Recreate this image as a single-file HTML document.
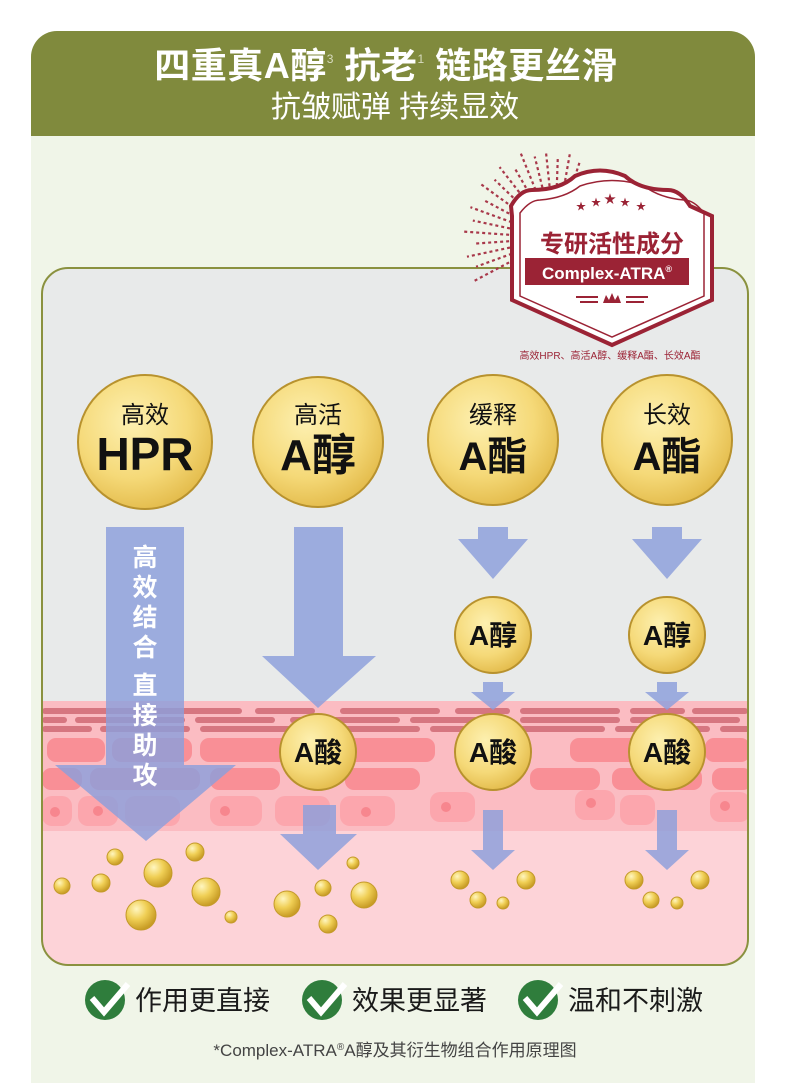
<!DOCTYPE html>
<html><head><meta charset="utf-8"><style>
html,body{margin:0;padding:0;background:#fff;}
body{width:790px;height:1083px;overflow:hidden;font-family:"Liberation Sans","Noto Sans CJK SC",sans-serif;}
</style></head><body>
<svg width="790" height="1083" viewBox="0 0 790 1083" xmlns="http://www.w3.org/2000/svg" font-family="'Liberation Sans','Noto Sans CJK SC',sans-serif">
<defs>
<radialGradient id="g" cx="0.4" cy="0.35" r="0.7">
<stop offset="0" stop-color="#fdf0b0"/><stop offset="0.6" stop-color="#f5d978"/><stop offset="1" stop-color="#e2b948"/>
</radialGradient>
<radialGradient id="d" cx="0.35" cy="0.3" r="0.7">
<stop offset="0" stop-color="#fff6c0"/><stop offset="0.5" stop-color="#f0cf55"/><stop offset="1" stop-color="#c89c25"/>
</radialGradient>
<clipPath id="pc"><rect x="42" y="268" width="706" height="697" rx="26"/></clipPath>
</defs>
<rect x="31" y="31" width="724" height="1052" rx="26" fill="#f0f5e8"/>
<rect x="31" y="120" width="724" height="963" fill="#f0f5e8"/>
<path d="M31 136 V57 a26 26 0 0 1 26 -26 H729 a26 26 0 0 1 26 26 V136 Z" fill="#808a3d"/>
<text x="386" y="78" text-anchor="middle" font-size="36" font-weight="bold" fill="#fff" letter-spacing="0.5">四重真A醇<tspan font-size="12" font-weight="normal" dy="-15" fill="#d8dcc0">3</tspan><tspan dy="15"> 抗老</tspan><tspan font-size="12" font-weight="normal" dy="-15" fill="#d8dcc0">1</tspan><tspan dy="15"> 链路更丝滑</tspan></text>
<text x="395" y="117" text-anchor="middle" font-size="30" fill="#fff">抗皱赋弹  持续显效</text>

<rect x="42" y="268" width="706" height="697" rx="26" fill="#e8eaea"/>
<g clip-path="url(#pc)">
<rect x="42" y="701" width="706" height="270" fill="#fdd3d8"/>
<rect x="42" y="701" width="706" height="130" fill="#fbbcc2"/>
<g fill="#d67680">
<rect x="42" y="708" width="60" height="6" rx="3"/><rect x="65" y="708" width="80" height="6" rx="3"/><rect x="152" y="708" width="90" height="6" rx="3"/><rect x="255" y="708" width="60" height="6" rx="3"/><rect x="340" y="708" width="100" height="6" rx="3"/><rect x="455" y="708" width="55" height="6" rx="3"/><rect x="520" y="708" width="100" height="6" rx="3"/><rect x="630" y="708" width="55" height="6" rx="3"/><rect x="692" y="708" width="56" height="6" rx="3"/>
<rect x="42" y="717" width="25" height="6" rx="3"/><rect x="75" y="717" width="110" height="6" rx="3"/><rect x="195" y="717" width="80" height="6" rx="3"/><rect x="290" y="717" width="110" height="6" rx="3"/><rect x="410" y="717" width="100" height="6" rx="3"/><rect x="520" y="717" width="100" height="6" rx="3"/><rect x="630" y="717" width="110" height="6" rx="3"/>
<rect x="42" y="726" width="50" height="6" rx="3"/><rect x="100" y="726" width="90" height="6" rx="3"/><rect x="200" y="726" width="100" height="6" rx="3"/><rect x="310" y="726" width="110" height="6" rx="3"/><rect x="430" y="726" width="70" height="6" rx="3"/><rect x="510" y="726" width="95" height="6" rx="3"/><rect x="615" y="726" width="95" height="6" rx="3"/><rect x="720" y="726" width="30" height="6" rx="3"/>
</g>
<g fill="#f98f96">
<rect x="47" y="738" width="58" height="24" rx="9"/><rect x="112" y="738" width="80" height="24" rx="9"/><rect x="200" y="738" width="90" height="24" rx="9"/><rect x="340" y="738" width="95" height="24" rx="9"/><rect x="570" y="738" width="70" height="24" rx="9"/><rect x="705" y="738" width="45" height="24" rx="9"/>
<rect x="42" y="768" width="40" height="22" rx="9"/><rect x="90" y="768" width="110" height="22" rx="9"/><rect x="210" y="768" width="70" height="22" rx="9"/><rect x="345" y="768" width="75" height="22" rx="9"/><rect x="530" y="768" width="70" height="22" rx="9"/><rect x="612" y="768" width="90" height="22" rx="9"/><rect x="712" y="768" width="40" height="22" rx="9"/>
</g>
<g fill="#fca6ad">
<rect x="42" y="796" width="30" height="30" rx="10"/><rect x="78" y="796" width="40" height="30" rx="10"/><rect x="125" y="796" width="55" height="30" rx="10"/><rect x="210" y="796" width="52" height="30" rx="10"/><rect x="275" y="796" width="55" height="30" rx="10"/><rect x="340" y="796" width="55" height="30" rx="10"/><rect x="430" y="792" width="45" height="30" rx="10"/><rect x="575" y="790" width="40" height="30" rx="10"/><rect x="620" y="795" width="35" height="30" rx="10"/><rect x="710" y="792" width="40" height="30" rx="10"/>
</g>
<g fill="#f7868e"><circle cx="55" cy="812" r="5"/><circle cx="98" cy="811" r="5"/><circle cx="225" cy="811" r="5"/><circle cx="366" cy="812" r="5"/><circle cx="446" cy="807" r="5"/><circle cx="591" cy="803" r="5"/><circle cx="725" cy="806" r="5"/></g>
</g>
<rect x="42" y="268" width="706" height="697" rx="26" fill="none" stroke="#8a913f" stroke-width="2"/>

<g fill="#8b9fdc" fill-opacity="0.82">
<path d="M106 527 H184 V765 H236 L146 841 L55 765 H106 Z"/>
<path d="M294 527 H343 V656 H376 L318 708 L262 656 H294 Z"/>
<path d="M303 805 H336 V834 H357 L318 870 L280 834 H303 Z"/>
<path d="M478 527 H508 V539 H528 L493 579 L458 539 H478 Z"/>
<path d="M652 527 H682 V539 H702 L667 579 L632 539 H652 Z"/>
<path d="M483 682 H503 V692 H515 L493 710 L471 692 H483 Z"/>
<path d="M657 682 H677 V692 H689 L667 710 L645 692 H657 Z"/>
<path d="M483 810 H503 V850 H515 L493 870 L471 850 H483 Z"/>
<path d="M657 810 H677 V850 H689 L667 870 L645 850 H657 Z"/>
</g>
<g font-size="25" font-weight="bold" fill="#fff" text-anchor="middle">
<text x="145" y="566">高</text><text x="145" y="596">效</text><text x="145" y="626">结</text><text x="145" y="656">合</text><text x="145" y="694">直</text><text x="145" y="724">接</text><text x="145" y="754">助</text><text x="145" y="784">攻</text>
</g>

<g stroke="#b8922e" stroke-width="2" fill="url(#g)">
<circle cx="145" cy="442" r="67"/><circle cx="318" cy="442" r="65"/><circle cx="493" cy="440" r="65"/><circle cx="667" cy="440" r="65"/>
<circle cx="493" cy="635" r="38"/><circle cx="667" cy="635" r="38"/>
<circle cx="318" cy="752" r="38"/><circle cx="493" cy="752" r="38"/><circle cx="667" cy="752" r="38"/>
</g>
<g fill="#111" text-anchor="middle">
<text x="145" y="423" font-size="24">高效</text><text x="145" y="470" font-size="46" font-weight="bold">HPR</text>
<text x="318" y="423" font-size="24">高活</text><text x="318" y="470" font-size="44" font-weight="bold">A醇</text>
<text x="493" y="423" font-size="24">缓释</text><text x="493" y="470" font-size="40" font-weight="bold">A酯</text>
<text x="667" y="423" font-size="24">长效</text><text x="667" y="470" font-size="40" font-weight="bold">A酯</text>
<text x="493" y="645" font-size="28" font-weight="bold">A醇</text><text x="667" y="645" font-size="28" font-weight="bold">A醇</text>
<text x="318" y="762" font-size="28" font-weight="bold">A酸</text><text x="493" y="762" font-size="28" font-weight="bold">A酸</text><text x="667" y="762" font-size="28" font-weight="bold">A酸</text>
</g>
<g fill="url(#d)" stroke="#c49a2a" stroke-width="1">
<circle cx="115" cy="857" r="8"/><circle cx="195" cy="852" r="9"/><circle cx="158" cy="873" r="14"/><circle cx="62" cy="886" r="8"/><circle cx="101" cy="883" r="9"/><circle cx="206" cy="892" r="14"/><circle cx="141" cy="915" r="15"/><circle cx="231" cy="917" r="6"/>
<circle cx="353" cy="863" r="6"/><circle cx="323" cy="888" r="8"/><circle cx="364" cy="895" r="13"/><circle cx="287" cy="904" r="13"/><circle cx="328" cy="924" r="9"/>
<circle cx="460" cy="880" r="9"/><circle cx="526" cy="880" r="9"/><circle cx="478" cy="900" r="8"/><circle cx="503" cy="903" r="6"/>
<circle cx="634" cy="880" r="9"/><circle cx="700" cy="880" r="9"/><circle cx="651" cy="900" r="8"/><circle cx="677" cy="903" r="6"/>
</g>

<g fill="#9b2335">
<g transform="translate(555,238)" stroke="#a8384a" stroke-width="2.2" stroke-dasharray="3 3">
<line x1="-40" y1="0" x2="-92" y2="0" transform="rotate(-28)"/>
<line x1="-40" y1="0" x2="-84" y2="0" transform="rotate(-20)"/>
<line x1="-40" y1="0" x2="-90" y2="0" transform="rotate(-12)"/>
<line x1="-40" y1="0" x2="-82" y2="0" transform="rotate(-4)"/>
<line x1="-40" y1="0" x2="-92" y2="0" transform="rotate(4)"/>
<line x1="-40" y1="0" x2="-84" y2="0" transform="rotate(12)"/>
<line x1="-40" y1="0" x2="-90" y2="0" transform="rotate(20)"/>
<line x1="-40" y1="0" x2="-82" y2="0" transform="rotate(28)"/>
<line x1="-40" y1="0" x2="-92" y2="0" transform="rotate(36)"/>
<line x1="-40" y1="0" x2="-84" y2="0" transform="rotate(44)"/>
<line x1="-40" y1="0" x2="-90" y2="0" transform="rotate(52)"/>
<line x1="-40" y1="0" x2="-82" y2="0" transform="rotate(60)"/>
<line x1="-40" y1="0" x2="-92" y2="0" transform="rotate(68)"/>
<line x1="-40" y1="0" x2="-84" y2="0" transform="rotate(76)"/>
<line x1="-40" y1="0" x2="-88" y2="0" transform="rotate(84)"/>
<line x1="-40" y1="0" x2="-82" y2="0" transform="rotate(92)"/>
<line x1="-40" y1="0" x2="-86" y2="0" transform="rotate(100)"/>
<line x1="-40" y1="0" x2="-80" y2="0" transform="rotate(108)"/>
</g>
<path d="M511 206 Q520 190 532 190 Q560 190 575 176 Q600 165 625 176 Q640 190 668 190 Q680 190 690 206 L712 216 V300 L612 345 L512 300 V216 Z" fill="#fff" stroke="#9b2335" stroke-width="4"/>
<path d="M520 213 Q530 200 540 200 Q565 198 580 186 Q612 175 644 186 Q660 198 684 200 Q694 200 704 213 V296 L612 337 L520 296 Z" fill="none" stroke="#9b2335" stroke-width="1.5"/>
<text x="612" y="252" text-anchor="middle" font-size="24" font-weight="bold">专研活性成分</text>
<rect x="525" y="258" width="164" height="27"/>
<text x="607" y="279" text-anchor="middle" font-size="17" font-weight="bold" fill="#fff">Complex-ATRA<tspan font-size="9" dy="-7">®</tspan></text>
<text x="576" y="210" font-size="10">★</text><text x="591" y="206" font-size="10">★</text><text x="604" y="203" font-size="12">★</text><text x="620" y="206" font-size="10">★</text><text x="636" y="210" font-size="10">★</text>
<path d="M603 303 L606 295 L609 300 L612 293 L615 300 L618 295 L621 303 Z"/>
<rect x="576" y="296" width="22" height="2"/><rect x="580" y="301" width="18" height="2"/><rect x="626" y="296" width="22" height="2"/><rect x="626" y="301" width="18" height="2"/>
<text x="610" y="359" text-anchor="middle" font-size="10">高效HPR、高活A醇、缓释A酯、长效A酯</text>
</g>

<g>
<ellipse cx="105" cy="1000" rx="20" ry="20" fill="#2f7d3c"/><path d="M92 998 L104 1012 L128 984" stroke="#fff" stroke-width="6" fill="none"/>
<ellipse cx="322" cy="1000" rx="20" ry="20" fill="#2f7d3c"/><path d="M309 998 L321 1012 L345 984" stroke="#fff" stroke-width="6" fill="none"/>
<ellipse cx="538" cy="1000" rx="20" ry="20" fill="#2f7d3c"/><path d="M525 998 L537 1012 L561 984" stroke="#fff" stroke-width="6" fill="none"/>
</g>
<g font-size="27" fill="#1a1a1a">
<text x="135" y="1010">作用更直接</text><text x="352" y="1010">效果更显著</text><text x="568" y="1010">温和不刺激</text>
</g>
<text x="395" y="1056" text-anchor="middle" font-size="17" fill="#444">*Complex-ATRA<tspan font-size="10" dy="-6">®</tspan><tspan dy="6">A醇及其衍生物组合作用原理图</tspan></text>
</svg>
</body></html>
